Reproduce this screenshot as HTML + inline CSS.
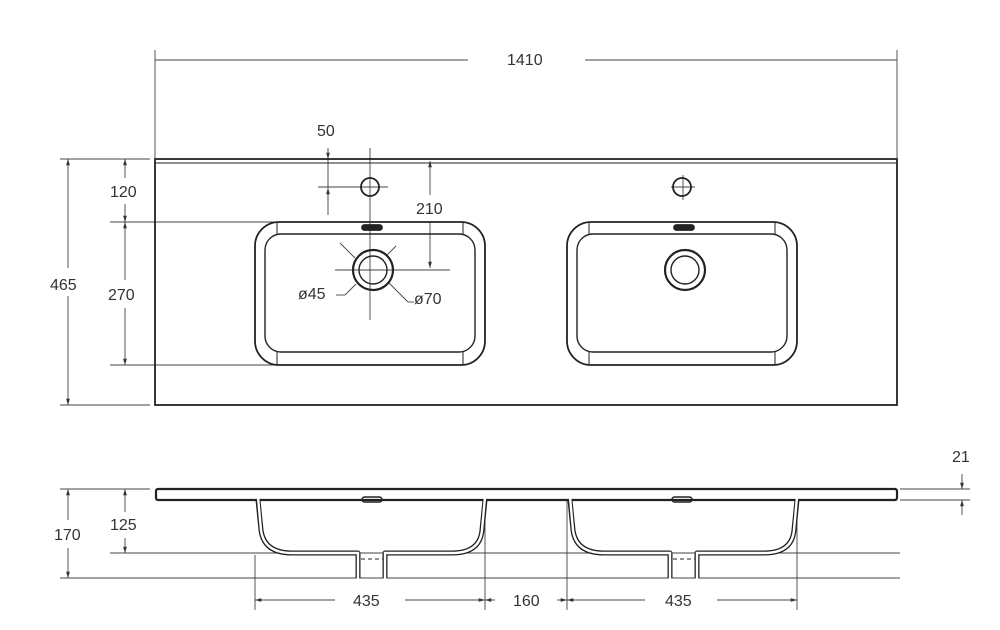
<!DOCTYPE html>
<html><head><style>
html,body{margin:0;padding:0;background:#fff;}
svg{display:block;}
text{font-family:"Liberation Sans",sans-serif;font-size:16px;fill:#333;}
</style></head><body>
<svg width="1000" height="630" viewBox="0 0 1000 630" xmlns="http://www.w3.org/2000/svg">
<defs>
<marker id="a" viewBox="0 0 10 10" refX="10" refY="5" markerWidth="7" markerHeight="7" orient="auto-start-reverse"><path d="M0,2 L10,5 L0,8z" fill="#333"/></marker>
</defs>
<g stroke="#444" stroke-width="0.9" fill="none">
<line x1="155" y1="50" x2="155" y2="158"/><line x1="897" y1="50" x2="897" y2="158"/>
<line x1="155" y1="60" x2="468" y2="60"/><line x1="585" y1="60" x2="897" y2="60"/>
<line x1="60" y1="159" x2="150" y2="159"/><line x1="60" y1="405" x2="150" y2="405"/>
<line x1="68" y1="159" x2="68" y2="268" marker-start="url(#a)"/><line x1="68" y1="296" x2="68" y2="405" marker-end="url(#a)"/>
<line x1="110" y1="222" x2="300" y2="222"/><line x1="110" y1="365" x2="300" y2="365"/>
<line x1="125" y1="159" x2="125" y2="178" marker-start="url(#a)"/><line x1="125" y1="204" x2="125" y2="222" marker-end="url(#a)"/>
<line x1="125" y1="222" x2="125" y2="280" marker-start="url(#a)"/><line x1="125" y1="308" x2="125" y2="365" marker-end="url(#a)"/>
<line x1="328" y1="148" x2="328" y2="215"/>
<line x1="328" y1="150" x2="328" y2="159" marker-end="url(#a)"/>
<line x1="328" y1="200" x2="328" y2="188" marker-end="url(#a)"/>
<line x1="318" y1="187" x2="388" y2="187"/>
<line x1="370" y1="148" x2="370" y2="320"/>
<line x1="430" y1="161" x2="430" y2="195" marker-start="url(#a)"/><line x1="430" y1="222" x2="430" y2="268" marker-end="url(#a)"/>
<line x1="335" y1="270" x2="450" y2="270"/>
<line x1="340" y1="243" x2="355" y2="258"/><line x1="388" y1="282" x2="408" y2="302"/><line x1="408" y1="302" x2="414" y2="302"/>
<line x1="396" y1="246" x2="386" y2="256"/><line x1="356" y1="284" x2="345" y2="295"/><line x1="345" y1="295" x2="336" y2="295"/>
<line x1="683" y1="175" x2="683" y2="200"/><line x1="671" y1="187" x2="695" y2="187"/>
<line x1="60" y1="489" x2="150" y2="489"/><line x1="60" y1="578" x2="360" y2="578"/>
<line x1="110" y1="553" x2="260" y2="553"/>
<line x1="68" y1="489" x2="68" y2="520" marker-start="url(#a)"/><line x1="68" y1="548" x2="68" y2="578" marker-end="url(#a)"/>
<line x1="125" y1="489" x2="125" y2="512" marker-start="url(#a)"/><line x1="125" y1="538" x2="125" y2="553" marker-end="url(#a)"/>
<line x1="900" y1="489" x2="970" y2="489"/><line x1="900" y1="500" x2="970" y2="500"/>
<line x1="962" y1="474" x2="962" y2="489" marker-end="url(#a)"/><line x1="962" y1="515" x2="962" y2="500" marker-end="url(#a)"/>
<line x1="255" y1="555" x2="255" y2="610"/><line x1="485" y1="500" x2="485" y2="610"/><line x1="567" y1="500" x2="567" y2="610"/><line x1="797" y1="500" x2="797" y2="610"/>
<line x1="255" y1="600" x2="335" y2="600" marker-start="url(#a)"/><line x1="405" y1="600" x2="485" y2="600" marker-end="url(#a)"/>
<line x1="485" y1="600" x2="495" y2="600" marker-start="url(#a)"/><line x1="557" y1="600" x2="567" y2="600" marker-end="url(#a)"/>
<line x1="567" y1="600" x2="645" y2="600" marker-start="url(#a)"/><line x1="717" y1="600" x2="797" y2="600" marker-end="url(#a)"/>
<line x1="360" y1="578" x2="900" y2="578"/><line x1="260" y1="553" x2="900" y2="553"/>
</g>
<g stroke="#222" fill="none">
<rect x="155" y="159" width="742" height="246" stroke-width="1.8"/>
<line x1="155" y1="163" x2="897" y2="163" stroke-width="1"/>
<g id="b" stroke-width="1.8">
<rect x="255" y="222" width="230" height="143" rx="24"/>
<rect x="265" y="234" width="210" height="118" rx="16" stroke-width="1.4"/>
<line x1="277" y1="222" x2="277" y2="234" stroke-width="1"/><line x1="463" y1="222" x2="463" y2="234" stroke-width="1"/>
<line x1="277" y1="352" x2="277" y2="365" stroke-width="1"/><line x1="463" y1="352" x2="463" y2="365" stroke-width="1"/>
<circle cx="370" cy="187" r="9"/>
<circle cx="373" cy="270" r="20" stroke-width="2.2"/><circle cx="373" cy="270" r="14" stroke-width="1.4"/>
<rect x="362" y="225" width="20" height="5" rx="2.5" fill="#222"/>
</g>
<use href="#b" x="312"/>
<rect x="156" y="489" width="741" height="11" rx="2" stroke-width="2.2"/>
<g stroke-width="5" stroke-linejoin="round">
<path d="M258,500 L261,530 Q264,553 292,553 H358 V578 M385,578 V553 H452 Q480,553 482,530 L485,500"/>
<path d="M570,500 L573,530 Q576,553 604,553 H670 V578 M697,578 V553 H764 Q792,553 794,530 L797,500"/>
</g>
<g stroke-width="2.4" stroke="#fff">
<line x1="158" y1="494.5" x2="895" y2="494.5" stroke-width="5.5"/>
<path d="M258,497 L261,530 Q264,553 292,553 H358 V580 M385,580 V553 H452 Q480,553 482,530 L485,497"/>
<path d="M570,497 L573,530 Q576,553 604,553 H670 V580 M697,580 V553 H764 Q792,553 794,530 L797,497"/>
</g>
<rect x="362" y="497" width="20" height="5" rx="2.5" stroke-width="1.5"/>
<rect x="672" y="497" width="20" height="5" rx="2.5" stroke-width="1.5"/>
<line x1="361" y1="559" x2="383" y2="559" stroke-width="1" stroke-dasharray="4,3"/>
<line x1="673" y1="559" x2="695" y2="559" stroke-width="1" stroke-dasharray="4,3"/>
</g>
<text x="507" y="65">1410</text>
<text x="317" y="136">50</text>
<text x="110" y="197">120</text>
<text x="416" y="214">210</text>
<text x="50" y="290">465</text>
<text x="108" y="300">270</text>
<text x="298" y="299">ø45</text>
<text x="414" y="304">ø70</text>
<text x="952" y="462">21</text>
<text x="54" y="540">170</text>
<text x="110" y="530">125</text>
<text x="353" y="606">435</text>
<text x="513" y="606">160</text>
<text x="665" y="606">435</text>
</svg>
</body></html>
